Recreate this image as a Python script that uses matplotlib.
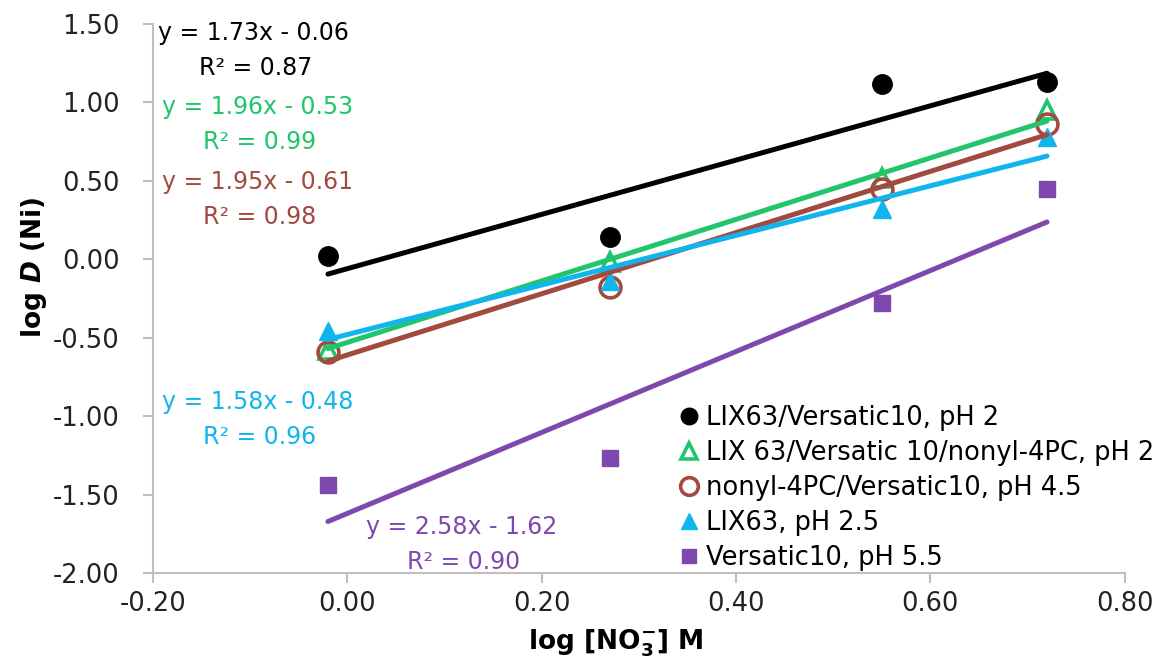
import numpy as np
import matplotlib
matplotlib.use("Agg")
import matplotlib.pyplot as plt
from matplotlib.ticker import FormatStrFormatter

plt.rcParams['font.family'] = ['DejaVu Sans']
plt.rcParams['axes.unicode_minus'] = False
plt.rcParams['mathtext.fontset'] = 'custom'
plt.rcParams['mathtext.rm'] = 'DejaVu Sans:bold'
plt.rcParams['mathtext.it'] = 'DejaVu Sans:bold:italic'

# log [NO3-] values
log_no3 = [-0.02, 0.27, 0.55, 0.72]

# log D(Ni) for each system
lix_versatic = [0.02, 0.14, 1.12, 1.13]
lix_versatic_nonyl = [-0.58, -0.02, 0.52, 0.95]
nonyl_versatic = [-0.59, -0.18, 0.45, 0.86]
lix63 = [-0.46, -0.14, 0.32, 0.78]
versatic10 = [-1.44, -1.27, -0.28, 0.45]

labels = ["LIX63/Versatic10, pH 2",
          "LIX 63/Versatic 10/nonyl-4PC, pH 2",
          "nonyl-4PC/Versatic10, pH 4.5",
          "LIX63, pH 2.5",
          "Versatic10, pH 5.5"]

# trendline coefficients shown on the chart
slopes = [1.73, 1.96, 1.95, 1.58, 2.58]
intercepts = [-0.06, -0.53, -0.61, -0.48, -1.62]
r_squared = [0.87, 0.99, 0.98, 0.96, 0.90]

colors = ['black', '#21c56b', '#a34a40', '#10b5ee', '#7f48ae']
markers = ['o', '^', 'o', '^', 's']
hollow = [False, True, True, False, False]
msizes = [14, 13, 15, 13, 12]

series = [lix_versatic, lix_versatic_nonyl, nonyl_versatic, lix63, versatic10]

fig = plt.figure(figsize=(11.68, 6.64), dpi=100)
ax = fig.add_axes([0.131, 0.137, 0.832, 0.827])

x = np.array(log_no3)
for i in range(len(series)):
    if hollow[i]:
        ax.plot(x, series[i], linestyle='none', marker=markers[i], markersize=msizes[i],
                markerfacecolor='none', markeredgecolor=colors[i], markeredgewidth=2.6,
                label=labels[i], zorder=3)
    else:
        ax.plot(x, series[i], linestyle='none', marker=markers[i], markersize=msizes[i],
                color=colors[i], label=labels[i], zorder=3)

# Trendlines
x_fit = np.array([x.min(), x.max()])
for i in range(len(series)):
    ax.plot(x_fit, slopes[i] * x_fit + intercepts[i], color=colors[i], lw=3.6,
            solid_capstyle='round', zorder=4)

# Equation labels
eq_pos = [(-0.195, 1.442), (-0.191, 0.971), (-0.191, 0.493), (-0.191, -0.909), (0.019, -1.707)]
for i in range(len(series)):
    ex, ey = eq_pos[i]
    sign = '-' if intercepts[i] < 0 else '+'
    ax.text(ex, ey, "y = %.2fx %s %.2f" % (slopes[i], sign, abs(intercepts[i])),
            color=colors[i], fontsize=17, ha='left', va='center', zorder=5)
    ax.text(ex + 0.042, ey - 0.222, "R² = %.2f" % r_squared[i],
            color=colors[i], fontsize=17, ha='left', va='center', zorder=5)

ax.set_xlim(-0.2, 0.8)
ax.set_ylim(-2.0, 1.5)
ax.set_xticks(np.arange(-0.2, 0.81, 0.2))
ax.set_yticks(np.arange(-2.0, 1.51, 0.5))
ax.xaxis.set_major_formatter(FormatStrFormatter('%.2f'))
ax.yaxis.set_major_formatter(FormatStrFormatter('%.2f'))

ax.spines[['right', 'top']].set_visible(False)
for s in ['left', 'bottom']:
    ax.spines[s].set_color('#bfbfbf')
    ax.spines[s].set_linewidth(1.5)
ax.tick_params(axis='both', colors='#bfbfbf', width=1.5, length=7, labelsize=18.5,
               labelcolor='#222222', direction='out')
ax.tick_params(axis='y', pad=17)
ax.tick_params(axis='x', pad=6)

ax.set_ylabel(r'log $\mathit{D}$ (Ni)', fontsize=19, fontweight='bold')
ax.set_xlabel(r'log [NO$_\mathrm{3}^\mathrm{-}$] M', fontsize=19, fontweight='bold')
ax.yaxis.set_label_coords(-0.107, 0.556)
ax.xaxis.set_label_coords(0.476, -0.1)

leg = ax.legend(loc='upper left', bbox_to_anchor=(0.581, 0.390), bbox_transform=fig.transFigure,
                frameon=False, fontsize=18.5, handletextpad=0.25, labelspacing=0.35,
                borderaxespad=0, borderpad=0, handlelength=0.8, markerscale=0.85)

fig.savefig('out.png', dpi=100)
